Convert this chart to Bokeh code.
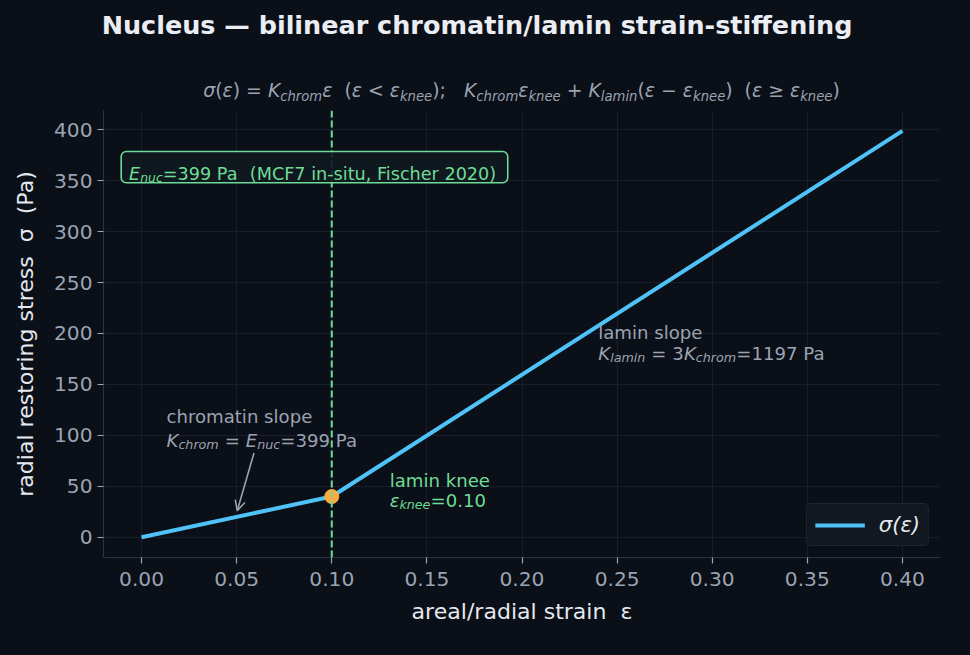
from bokeh.plotting import figure
from bokeh.layouts import column
from bokeh.models import (Range1d, Label, Span, Arrow, OpenHead, BoxAnnotation,
                          NumeralTickFormatter, FixedTicker, Div)
from bokeh.embed import file_html
from bokeh.resources import INLINE

# ---------------- data ----------------
strain = [0.0, 0.10, 0.40]
stress = [0.0, 39.9, 399.0]
knee_strain = [0.10]
knee_stress = [39.9]
E_nuc = 399
K_lamin = 1197
eps_knee = 0.10
x_ticks = [0.0, 0.05, 0.10, 0.15, 0.20, 0.25, 0.30, 0.35, 0.40]
y_ticks = [0, 50, 100, 150, 200, 250, 300, 350, 400]
title_text = "Nucleus — bilinear chromatin/lamin strain-stiffening"

# ---------------- style ----------------
FONT = "DejaVu Sans"
BG = "#0b0f17"
GRID = "#181e2b"
SPINE = "#2b3240"
TICK_TXT = "#9aa4b4"
LABEL_TXT = "#e4e8ef"
TITLE_TXT = "#eaedf3"
LINE = "#4fc3f7"
GREEN = "#6edc96"
ORANGE = "#ffab40"
GRAY = "#9aa3b2"

PW, PH = 954, 639            # figure size on the page
RW, RH = 970, 655            # reference design size
SX, SY = PW / RW, PH / RH
SF = 0.98                    # font scale

X0, X1 = -0.02, 0.42
Y0, Y1 = -19.95, 418.95
FL, FR, FT, FB = 105, 956, 113, 571  # frame edges in reference pixels
HEAD_H = round(FT * SY)
MB_L = round(FL * SX)
MB_R = PW - round(FR * SX)
MB_B = PH - round(FB * SY)


def px2x(px):
    return X0 + (px - FL) / (FR - FL) * (X1 - X0)


def px2y(py):
    return Y1 - (py - FT) / (FB - FT) * (Y1 - Y0)


W = {" ": 651, "(": 799, ")": 799, "+": 1716, ",": 651, "-": 739, ".": 651, "/": 690,
     ":": 690, ";": 690, "<": 1716, "=": 1716, "≥": 1716, "−": 1716,
     "A": 1401, "C": 1430, "E": 1294, "F": 1178, "K": 1343, "M": 1767, "P": 1235,
     "a": 1255, "b": 1300, "c": 1126, "d": 1300, "e": 1260, "f": 721, "g": 1300,
     "h": 1298, "i": 569, "k": 1186, "l": 569, "m": 1995, "n": 1298, "o": 1253,
     "p": 1300, "r": 842, "s": 1067, "t": 803, "u": 1298, "σ": 1290, "ε": 1090}
for d in "0123456789":
    W[d] = 1303


def tw(s):
    return sum(W.get(c, 1250) for c in s) / 2048.0


def runs_width(runs, size):
    return sum(tw(t) * size * (0.7 if sub else 1.0) for t, it, sub in runs)


def place(fig, runs, x_px, y_px, size, color):
    """x_px, y_px, size in reference pixels."""
    for t, it, sub in runs:
        fs = size * (0.7 if sub else 1.0)
        lead = len(t) - len(t.lstrip(" "))
        x_px += tw(" " * lead) * fs
        body = t.strip(" ")
        yy = y_px + (0.22 * size if sub else 0.0)
        if body:
            fig.add_layout(Label(x=px2x(x_px), y=px2y(yy), text=body,
                                 text_font=FONT, text_font_size=f"{fs * SF:.2f}px",
                                 text_font_style="italic" if it else "normal",
                                 text_color=color, text_baseline="alphabetic",
                                 text_align="left"))
        x_px += tw(t.lstrip(" ")) * fs


def runs_html(runs):
    out = []
    for t, it, sub in runs:
        style = "font-style:italic;" if it else ""
        if sub:
            style += "font-size:70%;position:relative;top:0.31em;"
        out.append(f'<span style="{style}">{t}</span>' if style else t)
    return "".join(out)


# ---------------- header (title + formula) as HTML ----------------
sub_runs = [("σ", 1, 0), ("(", 0, 0), ("ε", 1, 0), (")", 0, 0), (" = ", 0, 0), ("K", 1, 0),
            ("chrom", 1, 1), ("ε", 1, 0), ("  (", 0, 0), ("ε", 1, 0), (" < ", 0, 0),
            ("ε", 1, 0), ("knee", 1, 1), (");   ", 0, 0),
            ("K", 1, 0), ("chrom", 1, 1), ("ε", 1, 0), ("knee", 1, 1), (" + ", 0, 0),
            ("K", 1, 0), ("lamin", 1, 1), ("(", 0, 0), ("ε", 1, 0), (" − ", 0, 0),
            ("ε", 1, 0), ("knee", 1, 1), (")", 0, 0), ("  (", 0, 0), ("ε", 1, 0),
            (" ≥ ", 0, 0), ("ε", 1, 0), ("knee", 1, 1), (")", 0, 0)]
sub_fs = 646.0 * SX / runs_width(sub_runs, 1.0)
title_fs = 26 * SF
# baseline positions (figure px): title 34, formula 96.5 ; line-height = 1.2em box
asc = 0.928
title_lh = title_fs * 1.2
title_top = 34.2 - ((title_lh - 1.164 * title_fs) / 2 + asc * title_fs)
sub_lh = sub_fs * 1.2
sub_top = 96.6 - ((sub_lh - 1.164 * sub_fs) / 2 + asc * sub_fs)

header_html = (
    f'<div style="position:relative;width:{PW}px;height:{HEAD_H}px;background:{BG};'
    f'font-family:\'{FONT}\';white-space:pre;">'
    f'<div style="position:absolute;left:0;top:{title_top:.1f}px;width:{PW}px;text-align:center;'
    f'font-weight:bold;font-size:{title_fs:.2f}px;line-height:{title_lh:.2f}px;color:{TITLE_TXT};">'
    f'{title_text}</div>'
    f'<div style="position:absolute;left:{MB_L}px;top:{sub_top:.1f}px;width:{PW - MB_L - MB_R}px;'
    f'text-align:center;font-size:{sub_fs:.2f}px;line-height:{sub_lh:.2f}px;color:{GRAY};">'
    f'{runs_html(sub_runs)}</div></div>'
)
head = Div(text=header_html, width=PW, height=HEAD_H, margin=0,
           styles={"background-color": BG})

# ---------------- main plot ----------------
p = figure(width=PW, height=PH - HEAD_H, output_backend="svg", toolbar_location=None,
           x_range=Range1d(X0, X1), y_range=Range1d(Y0, Y1),
           min_border_left=MB_L, min_border_right=MB_R, min_border_top=0,
           min_border_bottom=MB_B)
p.background_fill_color = BG
p.border_fill_color = BG
p.outline_line_color = None

for ax in (p.xaxis[0], p.yaxis[0]):
    ax.axis_line_color = SPINE
    ax.axis_line_width = 1.2
    ax.major_tick_line_color = TICK_TXT
    ax.major_tick_line_width = 1.2
    ax.major_tick_out = 6
    ax.major_tick_in = 0
    ax.minor_tick_line_color = None
    ax.major_label_text_color = TICK_TXT
    ax.major_label_text_font = FONT
    ax.major_label_text_font_size = f"{20.6 * SF:.2f}px"
    ax.axis_label_text_color = LABEL_TXT
    ax.axis_label_text_font = FONT
    ax.axis_label_text_font_size = f"{22.5 * SF:.2f}px"
    ax.axis_label_text_font_style = "normal"

p.xaxis.ticker = FixedTicker(ticks=x_ticks)
p.yaxis.ticker = FixedTicker(ticks=y_ticks)
p.xaxis.formatter = NumeralTickFormatter(format="0.00")
p.xaxis.axis_label = "areal/radial strain \u00a0ε"
p.yaxis.axis_label = "radial restoring stress \u00a0σ \u00a0(Pa)"
p.xaxis.major_label_standoff = 8
p.yaxis.major_label_standoff = 5
p.xaxis.axis_label_standoff = 10
p.yaxis.axis_label_standoff = 13

p.grid.grid_line_color = GRID
p.grid.grid_line_width = 1
p.xgrid.ticker = FixedTicker(ticks=x_ticks)
p.ygrid.ticker = FixedTicker(ticks=y_ticks)

# knee line
p.add_layout(Span(location=knee_strain[0], dimension="height", line_color=GREEN,
                  line_width=2, line_dash="7 3"))

# main curve
p.line(strain, stress, line_color=LINE, line_width=4, legend_label="σ(ε)")
p.scatter(knee_strain, knee_stress, size=14, fill_color=ORANGE, line_color=ORANGE)

# info box
p.add_layout(BoxAnnotation(left=px2x(123), right=px2x(516), top=px2y(155), bottom=px2y(187),
                           fill_color="#111920", fill_alpha=0.9, line_color=GREEN,
                           line_alpha=1.0, line_width=1.6, border_radius=5))
place(p, [("E", 1, 0), ("nuc", 1, 1), (f"={E_nuc} Pa", 0, 0),
          ("  (MCF7 in-situ, Fischer 2020)", 0, 0)], 131, 178, 18, GREEN)

# chromatin slope annotation
place(p, [("chromatin slope", 0, 0)], 169, 427, 18.5, GRAY)
place(p, [("K", 1, 0), ("chrom", 1, 1), (" = ", 0, 0), ("E", 1, 0), ("nuc", 1, 1),
          (f"={E_nuc} Pa", 0, 0)], 169, 451, 18.5, GRAY)
p.add_layout(Arrow(end=OpenHead(size=10, line_color=GRAY, line_width=1.6),
                   x_start=px2x(258), y_start=px2y(464), x_end=px2x(241), y_end=px2y(523),
                   line_color=GRAY, line_width=1.6))

# lamin knee annotation
place(p, [("lamin knee", 0, 0)], 396, 492, 18.5, GREEN)
place(p, [("ε", 1, 0), ("knee", 1, 1), (f"={eps_knee:.2f}", 0, 0)], 396, 513, 18.5, GREEN)

# lamin slope annotation
place(p, [("lamin slope", 0, 0)], 608, 340, 18.5, GRAY)
place(p, [("K", 1, 0), ("lamin", 1, 1), (" = 3", 0, 0), ("K", 1, 0), ("chrom", 1, 1),
          (f"={K_lamin} Pa", 0, 0)], 608, 362, 18.5, GRAY)

# legend
lg = p.legend[0]
lg.location = "bottom_right"
lg.margin = 11
lg.padding = 8
lg.glyph_width = 50
lg.glyph_height = 24
lg.label_standoff = 14
lg.label_text_font = FONT
lg.label_text_font_size = f"{21.5 * SF:.2f}px"
lg.label_text_font_style = "italic"
lg.label_text_color = LABEL_TXT
lg.background_fill_color = "#121820"
lg.background_fill_alpha = 1.0
lg.border_line_color = SPINE
lg.border_line_width = 1.5
try:
    lg.border_radius = 5
except Exception:
    pass

layout = column(head, p, spacing=0, styles={"background-color": BG})
html = file_html(layout, INLINE)
html = html.replace("<body>", f'<body style="background:{BG};">', 1)
html = html.replace("<html", f'<html style="background:{BG};"', 1)
open("out.html", "w").write(html)
